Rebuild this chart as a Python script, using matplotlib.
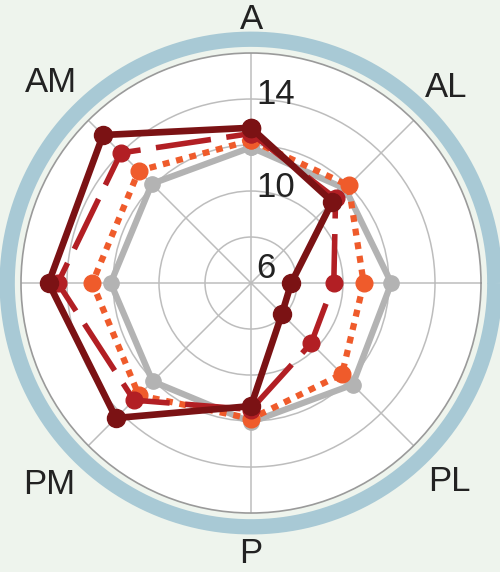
import numpy as np
import matplotlib
matplotlib.use("Agg")
import matplotlib.pyplot as plt
import matplotlib.transforms as mtransforms

categories = ["A", "AL", "L", "PL", "P", "PM", "M", "AM"]
shown_labels = ["A", "AL", "", "PL", "P", "PM", "", "AM"]
angles_deg = [90, 45, 0, 315, 270, 225, 180, 135]
label_radius = [17.45, 18.0, 17.7, 18.2, 17.75, 18.4, 17.7, 18.3]

gray_vals = [11.9, 11.8, 12.1, 12.25, 12.05, 12.05, 12.1, 12.1]
orange_vals = [12.2, 12.0, 10.9, 11.6, 11.9, 12.9, 12.9, 12.9]
red_vals = [12.5, 11.2, 9.6, 9.7, 11.5, 13.2, 14.4, 14.0]
dark_vals = [12.75, 11.0, 7.75, 7.9, 11.35, 14.3, 14.8, 15.1]

r_ticks = [6, 10, 14]
r_grid = [8, 10, 12, 14]

fig = plt.figure(figsize=(5.0, 5.72), dpi=100, facecolor="#eef4ed")
ax = fig.add_axes([0.042, 0.1031, 0.92, 0.8042], projection="polar")
ax.set_facecolor("white")

theta = np.deg2rad(angles_deg)

def closed(v):
    return np.append(v, v[0])

theta_c = closed(theta)

ax.plot(theta_c, closed(gray_vals), color="#b3b3b3", lw=4.5,
        marker="o", ms=11, zorder=3)
ax.plot(theta_c, closed(orange_vals), color="#ef5b2b", lw=4.5,
        linestyle=(0, (1.1, 1.1)), dash_capstyle="butt",
        marker="o", ms=12, zorder=4)
ax.plot(theta_c, closed(red_vals), color="#b21f24", lw=4,
        linestyle=(0, (10, 2.8)), marker="o", ms=12, zorder=5)
ax.plot(theta_c, closed(dark_vals), color="#7b1214", lw=4.8,
        marker="o", ms=13, zorder=6)

# outer blue ring
ring_t = np.linspace(0, 2 * np.pi, 400)
ax.plot(ring_t, np.full_like(ring_t, 16.6), color="#a8c9d5", lw=11,
        clip_on=False, zorder=1, solid_capstyle="butt")

ax.set_xlim(0, 2 * np.pi)
ax.set_ylim(6, 16)
ax.set_yticks(r_grid)
ax.set_yticklabels([])
ax.set_xticks(theta)
ax.set_xticklabels([])
ax.grid(True, color="#bdbdbd", linewidth=1.1)
ax.spines["polar"].set_color("#9a9a9a")
ax.spines["polar"].set_linewidth(1.2)

# radial labels
off = mtransforms.offset_copy(ax.transData, fig=fig, x=5, y=0, units="dots")
label_r = {6: 6.65, 10: 10.15, 14: 14.2}
for v in r_ticks:
    ax.text(np.pi / 2, label_r[v], str(v), transform=off, ha="left", va="center",
            fontsize=25, family="Liberation Sans", color="#222222", zorder=10)

# category labels
for a, lab, lr in zip(theta, shown_labels, label_radius):
    if lab:
        ax.text(a, lr, lab, ha="center", va="center", fontsize=25,
                family="Liberation Sans", color="#222222", clip_on=False)

fig.savefig("out.png", dpi=100, facecolor=fig.get_facecolor())
